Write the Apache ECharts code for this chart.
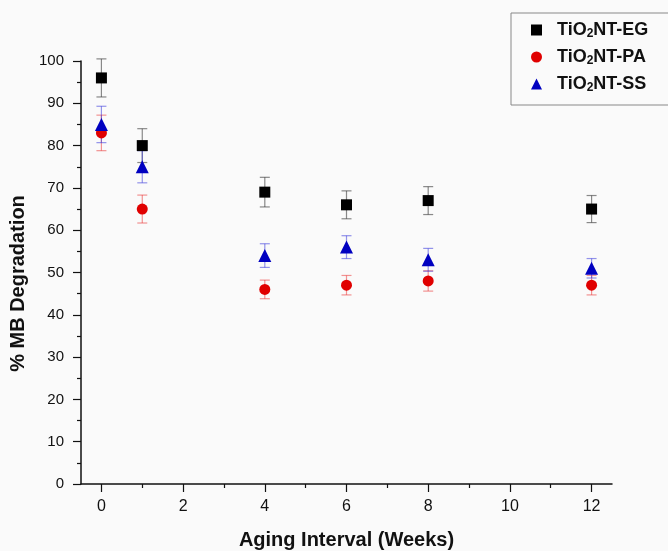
<!DOCTYPE html>
<html lang="en">
<head>
    <meta charset="UTF-8">
    <title>MB Degradation</title>
    <script src="https://cdn.jsdelivr.net/npm/echarts@6/dist/echarts.min.js"></script>
    <style>
        html, body { margin: 0; padding: 0; background: #fafafa; }
        #main { width: 668px; height: 551px; }
    </style>
</head>
<body>
<div id="main"></div>
<script>
    // aging interval (weeks)
    var weeks = [0, 1, 4, 6, 8, 12];
    var xTickLabels = [0, 2, 4, 6, 8, 10, 12];
    var xMinorTicks = [1, 3, 5, 7, 9, 11];

    // % MB degradation and error (+/-)
    var egMean = [96, 80, 69, 66, 67, 65];
    var egErr  = [4.5, 4, 3.5, 3.3, 3.3, 3.2];
    var paMean = [83, 65, 46, 47, 48, 47];
    var paErr  = [4.2, 3.3, 2.2, 2.3, 2.4, 2.3];
    var ssMean = [85, 75, 54, 56, 53, 51];
    var ssErr  = [4.3, 3.8, 2.8, 2.7, 2.7, 2.3];

    var names = ['TiO2NT-EG', 'TiO2NT-PA', 'TiO2NT-SS'];

    function pts(m) {
        return weeks.map(function (w, i) { return [w, m[i]]; });
    }
    function errPts(m, e) {
        return weeks.map(function (w, i) { return [w, m[i], e[i]]; });
    }

    function errBar(color) {
        return function (params, api) {
            var x = api.value(0), y = api.value(1), e = api.value(2);
            var hi = api.coord([x, y + e]);
            var lo = api.coord([x, y - e]);
            var cap = 5;
            var st = { stroke: color, lineWidth: 1.2 };
            return {
                type: 'group',
                children: [
                    { type: 'line', shape: { x1: hi[0], y1: hi[1], x2: lo[0], y2: lo[1] }, style: st },
                    { type: 'line', shape: { x1: hi[0] - cap, y1: hi[1], x2: hi[0] + cap, y2: hi[1] }, style: st },
                    { type: 'line', shape: { x1: lo[0] - cap, y1: lo[1], x2: lo[0] + cap, y2: lo[1] }, style: st }
                ]
            };
        };
    }

    var chart = echarts.init(document.getElementById('main'));
    var axisCol = '#111';
    var font = 'Liberation Sans, Arial, sans-serif';

    var option = {
        backgroundColor: '#fafafa',
        animation: false,
        textStyle: { fontFamily: font },
        grid: { left: 81, right: 56, top: 61, bottom: 67, containLabel: false, outerBoundsMode: 'none' },
        legend: {
            data: [
                { name: names[0], icon: 'rect' },
                { name: names[1], icon: 'circle' },
                { name: names[2], icon: 'triangle' }
            ],
            orient: 'vertical',
            left: 511,
            top: 13,
            itemWidth: 11,
            itemHeight: 11,
            itemGap: 8,
            padding: [8, 60, 11, 20],
            borderColor: '#888',
            borderWidth: 1,
            formatter: function (n) {
                return n.replace('TiO2', 'TiO{sub|2}');
            },
            textStyle: {
                fontSize: 18,
                fontWeight: 'bold',
                color: '#111',
                fontFamily: font,
                padding: [0, 0, 0, 10],
                rich: {
                    sub: { fontSize: 12, fontWeight: 'bold', color: '#111', verticalAlign: 'bottom', padding: [8, 0, 0, 0] }
                }
            }
        },
        xAxis: [
            {
                type: 'value',
                min: -0.5,
                max: 12.5,
                name: 'Aging Interval (Weeks)',
                nameLocation: 'middle',
                nameGap: 46,
                nameTextStyle: { fontSize: 20, fontWeight: 'bold', color: '#111', fontFamily: font },
                splitLine: { show: false },
                axisLine: { onZero: false, lineStyle: { color: axisCol, width: 1.5 } },
                axisTick: { customValues: xTickLabels, length: 8, lineStyle: { color: axisCol, width: 1.2 } },
                axisLabel: { customValues: xTickLabels, fontSize: 16, color: '#111', margin: 15 }
            },
            {
                type: 'value',
                min: -0.5,
                max: 12.5,
                position: 'bottom',
                splitLine: { show: false },
                axisLine: { show: false, onZero: false },
                axisTick: { customValues: xMinorTicks, length: 4, lineStyle: { color: axisCol, width: 1.2 } },
                axisLabel: { show: false }
            }
        ],
        yAxis: {
            type: 'value',
            min: 0,
            max: 100,
            interval: 10,
            name: '% MB Degradation',
            nameLocation: 'middle',
            nameGap: 51,
            nameTextStyle: { fontSize: 20, fontWeight: 'bold', color: '#111', fontFamily: font, padding: [0, 22, 0, 0] },
            splitLine: { show: false },
            axisLine: { show: true, onZero: false, lineStyle: { color: axisCol, width: 1.5 } },
            axisTick: { show: true, length: 8, lineStyle: { color: axisCol, width: 1.2 } },
            minorTick: { show: true, splitNumber: 2, length: 4, lineStyle: { color: axisCol, width: 1.2 } },
            axisLabel: { fontSize: 15, color: '#111', margin: 17 }
        },
        series: [
            { type: 'custom', renderItem: errBar('rgba(60,60,60,0.6)'), data: errPts(egMean, egErr), z: 1, silent: true },
            { type: 'custom', renderItem: errBar('rgba(235,60,60,0.55)'), data: errPts(paMean, paErr), z: 1, silent: true },
            { type: 'custom', renderItem: errBar('rgba(60,60,220,0.55)'), data: errPts(ssMean, ssErr), z: 1, silent: true },
            { name: names[0], type: 'scatter', symbol: 'rect', symbolSize: 11, itemStyle: { color: '#000', opacity: 1 }, data: pts(egMean), z: 3 },
            { name: names[1], type: 'scatter', symbol: 'circle', symbolSize: 11, itemStyle: { color: '#e00000', opacity: 1 }, data: pts(paMean), z: 3 },
            { name: names[2], type: 'scatter', symbol: 'triangle', symbolSize: 13, itemStyle: { color: '#0000c0', opacity: 1 }, data: pts(ssMean), z: 3 }
        ]
    };
    chart.setOption(option);
</script>
</body>
</html>
